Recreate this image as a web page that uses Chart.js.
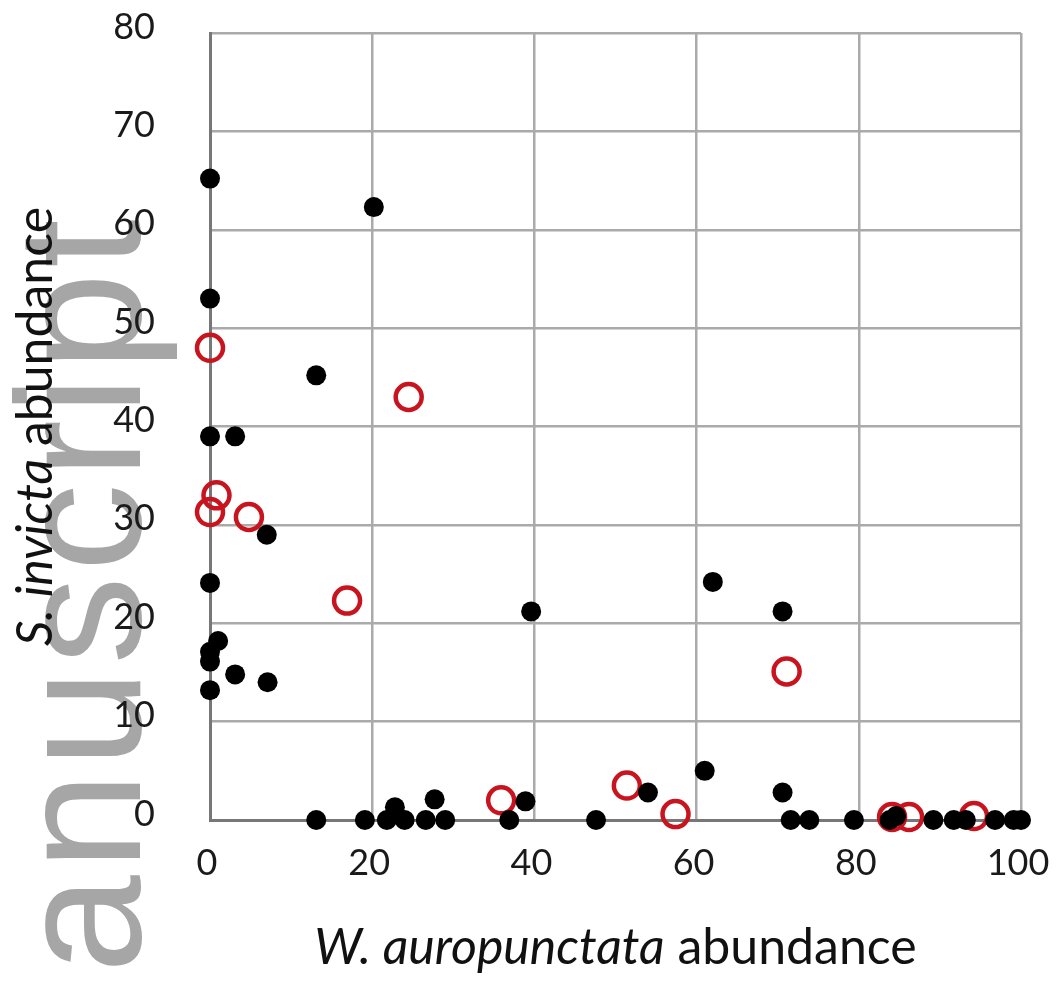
<!DOCTYPE html>
<html>
<head>
<meta charset="utf-8">
<script src="https://cdn.jsdelivr.net/npm/chart.js@4"></script>
<style>
  body { margin: 0; background: #fff; }
  canvas { display: block; }
</style>
</head>
<body>
<canvas id="chart" width="1061" height="985"></canvas>
<script>
// black filled points
const blackX = [0, 20.2, 0, 13.1, 0, 3.1, 7, 0, 1, 0, 0, 3.1, 7.1, 0,
  39.6, 62, 70.6, 61, 54, 70.6, 38.9, 27.7, 22.8,
  13.1, 19.1, 21.8, 24, 26.6, 29, 36.9, 47.6, 71.6, 73.9, 79.4, 83.8, 84.6, 89.2, 91.7, 93.2, 96.8, 99.1, 100];
const blackY = [65.2, 62.3, 53, 45.2, 39, 39, 29, 24.1, 18.2, 17.1, 16.1, 14.8, 14, 13.2,
  21.2, 24.2, 21.2, 5, 2.8, 2.8, 1.9, 2.1, 1.3,
  0, 0, 0, 0, 0, 0, 0, 0, 0, 0, 0, 0, 0.4, 0, 0, 0, 0, 0, 0];

// red open points
const redX = [0, 24.5, 0.8, 0, 4.8, 16.9, 71.1, 35.9, 51.4, 57.4, 84.1, 86.2, 94.2];
const redY = [48, 43, 33, 31.3, 30.8, 22.3, 15.1, 2, 3.5, 0.6, 0.3, 0.3, 0.4];

const xTicks = [0, 20, 40, 60, 80, 100];
const yTicks = [0, 10, 20, 30, 40, 50, 60, 70, 80];

const xTitle = ['W. auropunctata', ' abundance'];
const yTitle = ['S. invicta', ' abundance'];
const watermark = 'Manuscript';

const toPoints = (xs, ys) => xs.map((x, i) => ({ x: x, y: ys[i] }));

const watermarkPlugin = {
  id: 'watermark',
  beforeDraw(chart) {
    const ctx = chart.ctx;
    ctx.save();
    ctx.fillStyle = '#ffffff';
    ctx.fillRect(0, 0, chart.width, chart.height);
    ctx.translate(140, 214);
    ctx.rotate(-Math.PI / 2);
    ctx.font = '176px "Liberation Sans"';
    ctx.letterSpacing = '5px';
    ctx.fillStyle = '#a6a6a6';
    ctx.textAlign = 'right';
    ctx.textBaseline = 'alphabetic';
    ctx.fillText(watermark, 0, 0);
    ctx.restore();
  }
};

function drawMixed(ctx, parts, cx, cy, size) {
  const it = 'italic ' + size + 'px Lato';
  const nm = size + 'px Lato';
  ctx.font = it;
  const w1 = ctx.measureText(parts[0]).width;
  ctx.font = nm;
  const w2 = ctx.measureText(parts[1]).width;
  const x0 = cx - (w1 + w2) / 2;
  ctx.font = it;
  ctx.fillText(parts[0], x0, cy);
  ctx.font = nm;
  ctx.fillText(parts[1], x0 + w1, cy);
}

const titlesPlugin = {
  id: 'titles',
  afterDraw(chart) {
    const { ctx, chartArea } = chart;
    ctx.save();
    ctx.fillStyle = '#111111';
    ctx.textAlign = 'left';
    ctx.textBaseline = 'middle';
    drawMixed(ctx, xTitle, (chartArea.left + chartArea.right) / 2, chartArea.bottom + 128, 50);
    ctx.translate(36, (chartArea.top + chartArea.bottom) / 2);
    ctx.rotate(-Math.PI / 2);
    drawMixed(ctx, yTitle, 0, 0, 50);
    ctx.restore();
  }
};

// keep the plot box where the reference has it
function noScalePadding(s) {
  s.paddingTop = 0;
  s.paddingBottom = 0;
  s.paddingLeft = 0;
  s.paddingRight = 0;
}

new Chart(document.getElementById('chart'), {
  type: 'scatter',
  data: {
    datasets: [
      {
        label: 'black',
        data: toPoints(blackX, blackY),
        pointRadius: 10,
        pointBorderWidth: 0,
        pointBackgroundColor: '#000000',
        pointBorderColor: '#000000',
        clip: false
      },
      {
        label: 'red',
        data: toPoints(redX, redY),
        pointRadius: 13,
        pointBorderWidth: 4.5,
        pointBackgroundColor: 'rgba(255,255,255,0)',
        pointBorderColor: '#c8141e',
        clip: false
      }
    ]
  },
  options: {
    responsive: false,
    animation: false,
    layout: { padding: { top: 33, right: 40, left: 0, bottom: 0 } },
    plugins: {
      legend: { display: false },
      tooltip: { enabled: false }
    },
    scales: {
      x: {
        type: 'linear',
        min: 0,
        max: 100,
        afterBuildTicks: s => { s.ticks = xTicks.map(v => ({ value: v })); },
        afterFit: s => { s.height = 165; noScalePadding(s); },
        grid: { color: '#aaaaaa', lineWidth: 2.5, drawTicks: false },
        border: { color: '#777777', width: 3 },
        ticks: {
          font: { family: 'Lato', size: 36 },
          color: '#1a1a1a',
          padding: 22,
          labelOffset: -3,
          maxRotation: 0
        }
      },
      y: {
        type: 'linear',
        min: 0,
        max: 80,
        afterBuildTicks: s => { s.ticks = yTicks.map(v => ({ value: v })); },
        afterFit: s => { s.width = 210; noScalePadding(s); },
        grid: { color: '#aaaaaa', lineWidth: 2.5, drawTicks: false },
        border: { color: '#777777', width: 3 },
        ticks: {
          font: { family: 'Lato', size: 36 },
          color: '#1a1a1a',
          padding: 55,
          labelOffset: -6
        }
      }
    }
  },
  plugins: [watermarkPlugin, titlesPlugin]
});
</script>
</body>
</html>
